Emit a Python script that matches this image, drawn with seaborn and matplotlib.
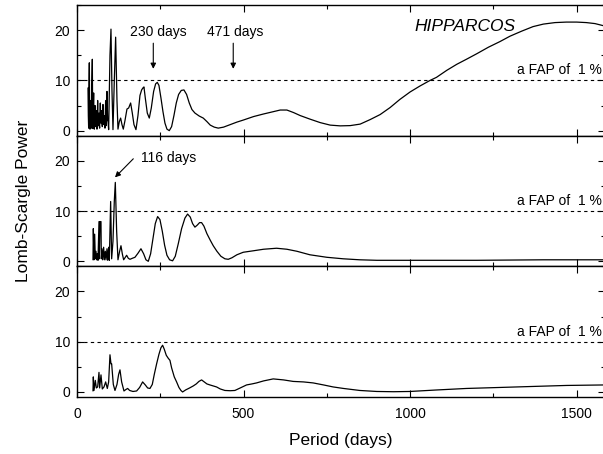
import matplotlib
matplotlib.use("Agg")
import matplotlib.pyplot as plt
import seaborn as sns
from matplotlib.ticker import MultipleLocator

# ---------------- data ----------------
top_x = [33, 34, 35, 36, 37, 38, 39, 40, 41, 42, 43, 44, 46, 47, 48, 49, 50, 51, 52, 53,
         54, 55, 56, 57, 58, 59, 60, 61, 62, 63, 64, 65, 66, 67, 68, 69, 70, 71, 72, 73,
         74, 75, 76, 77, 78, 79, 80, 81, 82, 83, 84, 85, 86, 87, 88, 89, 90, 92, 93, 95,
         99, 102, 105, 108, 112, 116, 120, 123, 127,
         131, 135, 139, 144, 150, 155, 161, 166, 171, 177, 183, 189, 194, 198, 201, 205, 211, 217, 223, 230,
         236, 241, 246, 252, 258, 264, 270, 277, 284, 291, 298, 305, 313, 321, 329, 337, 345, 354, 367, 379,
         390, 400, 412, 424, 440, 460, 480, 499, 530, 559, 590, 610, 630, 650, 670, 699, 730, 760, 790, 820,
         850, 880, 910, 940, 969, 1000, 1030, 1060, 1079, 1110, 1140, 1169, 1200, 1235, 1269, 1300, 1335, 1369, 1400, 1435,
         1469, 1500, 1529, 1555, 1585]
top_y = [8.5, 3.0, 0.5, 9.0, 13.5, 2.0, 0.3, 4.0, 6.0, 1.5, 0.5, 8.0, 14.2, 3.0, 0.4, 5.0, 7.5, 2.0, 0.3, 3.0,
         5.0, 1.5, 0.8, 3.0, 4.0, 1.0, 0.3, 2.5, 6.0, 2.0, 1.0, 2.5, 3.5, 1.0, 0.5, 3.0, 5.5, 2.5, 1.5, 3.0,
         4.0, 1.5, 0.8, 3.0, 5.2, 2.5, 1.2, 2.0, 3.0, 1.5, 0.5, 3.0, 6.0, 3.0, 1.0, 4.0, 7.8, 2.0, 2.0, 0.2,
         15.0, 20.2, 8.0, 0.2, 10.0, 18.6, 6.0, 0.3, 1.8,
         2.5, 1.2, 0.3, 2.0, 4.3, 4.5, 5.5, 3.5, 1.2, 0.2, 3.0, 7.0, 8.1, 8.5, 8.7, 6.5, 3.5, 2.5, 4.5, 7.8,
         9.3, 9.6, 9.0, 6.5, 3.8, 1.5, 0.3, 0.0, 0.8, 3.0, 5.5, 7.2, 8.0, 8.1, 7.2, 5.5, 4.2, 3.5, 2.9, 2.5,
         1.8, 1.1, 0.7, 0.5, 0.7, 1.2, 1.7, 2.1, 2.8, 3.3, 3.8, 4.1, 4.1, 3.6, 3.0, 2.3, 1.6, 1.1, 0.95, 1.0,
         1.3, 2.2, 3.2, 4.6, 6.2, 7.7, 8.9, 10.0, 10.6, 12.0, 13.2, 14.2, 15.3, 16.6, 17.7, 18.8, 19.8, 20.7, 21.2, 21.5,
         21.6, 21.6, 21.5, 21.3, 20.8]

mid_x = [48, 49, 51, 53, 55, 57, 59, 61, 63, 66, 67, 69, 72, 73, 75, 77, 80, 82, 85, 87,
         90, 92, 95, 97, 101, 104, 108, 112, 115, 119, 123, 128, 132, 136, 140, 145, 149, 154, 159, 166,
         174, 183, 192, 200, 207, 214, 221, 228, 235, 242, 249, 256, 263, 270, 278, 287, 295, 304, 314, 324,
         332, 340, 347, 354, 361, 368, 374, 381, 390, 400, 409, 420, 432, 444, 454, 465, 480, 499, 530, 560,
         599, 630, 660, 699, 750, 799, 849, 900, 950, 1000, 1100, 1200, 1300, 1400, 1500, 1585]
mid_y = [0.3, 6.5, 0.3, 5.4, 0.5, 2.0, 0.3, 1.5, 0.2, 7.9, 0.5, 7.9, 7.9, 0.5, 2.5, 0.3, 2.8, 0.3, 2.0, 0.3,
         2.5, 0.2, 2.8, 0.2, 11.9, 0.5, 4.0, 12.0, 15.7, 6.0, 0.3, 2.0, 3.1, 1.5, 0.3, 0.8, 1.2, 0.6, 0.4, 0.6,
         0.8, 1.6, 2.5, 1.5, 0.3, 0.0, 1.5, 4.5, 7.5, 8.9, 8.3, 6.0, 3.2, 1.2, 0.3, 0.1, 1.0, 3.5, 6.5, 8.6,
         9.4, 8.8, 7.5, 6.8, 7.2, 7.7, 7.7, 7.0, 5.5, 4.2, 3.1, 2.0, 1.0, 0.5, 0.4, 0.7, 1.3, 1.8, 2.1, 2.4,
         2.6, 2.4, 2.0, 1.3, 0.8, 0.5, 0.3, 0.2, 0.2, 0.2, 0.2, 0.2, 0.25, 0.3, 0.3, 0.3]

bot_x = [48, 49, 51, 55, 58, 62, 66, 68, 72, 76, 81, 86, 91, 95, 99, 102, 104, 109, 114, 120,
         125, 129, 134, 141, 147, 152, 158, 168, 179, 188, 197, 205, 212, 219, 226, 232, 239, 246, 252, 257,
         262, 268, 274, 279, 284, 292, 299, 306, 312, 317, 326, 338, 349, 358, 366, 374, 382, 390, 399, 409,
         419, 430, 444, 460, 474, 490, 509, 525, 539, 560, 589, 620, 649, 680, 709, 740, 769, 800, 849, 900,
         950, 999, 1080, 1169, 1270, 1369, 1470, 1585]
bot_y = [0.2, 3.0, 0.3, 2.3, 0.8, 1.0, 3.9, 0.8, 3.4, 0.6, 1.0, 2.0, 0.7, 2.0, 7.4, 5.6, 5.6, 1.5, 0.3, 1.5,
         3.5, 4.4, 2.0, 0.2, 0.5, 0.7, 0.3, 0.1, 0.2, 0.9, 2.0, 1.4, 0.8, 0.7, 1.5, 3.5, 5.6, 7.5, 8.8, 9.3,
         8.5, 7.3, 6.7, 6.3, 4.8, 3.0, 2.0, 0.9, 0.3, 0.0, 0.4, 0.8, 1.2, 1.6, 2.1, 2.4, 2.0, 1.6, 1.4, 1.2,
         1.0, 0.6, 0.3, 0.25, 0.3, 0.8, 1.4, 1.6, 1.8, 2.2, 2.6, 2.4, 2.1, 2.0, 1.8, 1.4, 1.0, 0.7, 0.3, 0.1,
         0.05, 0.1, 0.4, 0.7, 0.9, 1.1, 1.3, 1.4]

fap_level = 10
y_ticks = [0, 10, 20]
x_ticks = [0, 500, 1000, 1500]

# ---------------- style ----------------
sns.set_style("ticks")
plt.rcParams["font.family"] = ["Liberation Sans", "DejaVu Sans"]
plt.rcParams.update({"text.color": "black", "axes.labelcolor": "black",
                     "xtick.color": "black", "ytick.color": "black"})

fig = plt.figure(figsize=(6.03, 4.54), dpi=100)
left, right_edge, bottom, top = 77 / 603, 605 / 603, 1 - 397 / 454, 1 - 5 / 454
h = (top - bottom) / 3
axes = [fig.add_axes([left, bottom + (2 - i) * h, right_edge - left, h]) for i in range(3)]

series = [(top_x, top_y), (mid_x, mid_y), (bot_x, bot_y)]
for ax, (xs, ys) in zip(axes, series):
    sns.lineplot(x=xs, y=ys, ax=ax, color="black", linewidth=0.9, sort=False)
    ax.axhline(fap_level, color="black", linewidth=0.8, linestyle=(0, (3, 3)))
    ax.set_xlim(0, 1585)
    ax.set_ylim(-1, 25)
    ax.set_yticks(y_ticks)
    ax.set_xticks(x_ticks)
    ax.xaxis.set_minor_locator(MultipleLocator(250))
    ax.yaxis.set_minor_locator(MultipleLocator(5))
    ax.tick_params(which="both", direction="in", top=True, right=True, color="black",
                   labelcolor="black", labelsize=10, width=0.8)
    ax.tick_params(which="major", length=5)
    ax.tick_params(which="minor", length=3)
    ax.tick_params(axis="y", pad=5)
    ax.tick_params(axis="x", pad=7)
    for s in ax.spines.values():
        s.set_linewidth(1.0)
        s.set_color("black")
    ax.set_xlabel("")
    ax.set_ylabel("")
    ax.text(1575, 12.0, "a FAP of  1 %", ha="right", va="center", fontsize=10)
    if ax is not axes[2]:
        ax.tick_params(labelbottom=False)

arrow = dict(arrowstyle="-|>", color="black", lw=0.8, mutation_scale=8, shrinkA=0, shrinkB=0)
ax0 = axes[0]
ax0.annotate("", xy=(229, 12.3), xytext=(229, 17.4), arrowprops=arrow)
ax0.text(243, 19.7, "230 days", ha="center", va="center", fontsize=10)
ax0.annotate("", xy=(469, 12.3), xytext=(469, 17.4), arrowprops=arrow)
ax0.text(476, 19.7, "471 days", ha="center", va="center", fontsize=10)
ax0.text(1164, 20.8, "HIPPARCOS", ha="center", va="center", fontsize=12.5, style="italic")

ax1 = axes[1]
ax1.annotate("", xy=(114, 16.7), xytext=(169, 20.4), arrowprops=arrow)
ax1.text(192, 20.6, "116 days", ha="left", va="center", fontsize=10)

axes[1].set_ylabel("Lomb-Scargle Power", fontsize=12.5, labelpad=17)
axes[2].set_xlabel("Period (days)", fontsize=12.5, labelpad=9)

fig.savefig("out.png", dpi=100)
